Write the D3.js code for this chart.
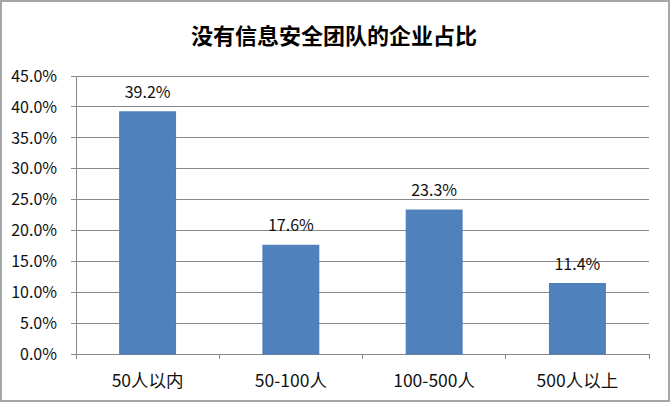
<!DOCTYPE html>
<html><head><meta charset="utf-8">
<script src="https://cdn.jsdelivr.net/npm/d3@7"></script>
<style>body{margin:0;background:#fff}svg{display:block}text{font-family:"Noto Sans CJK SC","Noto Sans",sans-serif}</style>
</head><body>
<script>
const categories = ["50人以内","50-100人","100-500人","500人以上"];
const values = [39.2, 17.6, 23.3, 11.4];
const yTicks = [0,5,10,15,20,25,30,35,40,45];
const title = "没有信息安全团队的企业占比";

const W=670,H=402;
const m={left:76,right:21,top:76,bottom:48};
const svg=d3.select("body").append("svg").attr("width",W).attr("height",H);
svg.append("rect").attr("x",1).attr("y",1).attr("width",W-2).attr("height",H-2).attr("fill","#fff").attr("stroke","#a6a6a6").attr("stroke-width",2);

const x=d3.scaleBand().domain(categories).range([m.left,W-m.right]).paddingInner(0.61).paddingOuter(0.305);
const y=d3.scaleLinear().domain([0,45]).range([H-m.bottom,m.top]);

// gridlines
svg.append("g").selectAll("line").data(yTicks).join("line")
 .attr("x1",m.left-5).attr("x2",W-m.right).attr("y1",d=>y(d)).attr("y2",d=>y(d))
 .attr("stroke","#888").attr("stroke-width",1).attr("shape-rendering","crispEdges");

// y axis labels
svg.append("g").selectAll("text").data(yTicks).join("text")
 .attr("x",m.left-19).attr("y",d=>y(d)).attr("dy","0.36em").attr("text-anchor","end")
 .attr("font-size",16).attr("fill","#111").text(d=>d.toFixed(1)+"%");

// y axis line
svg.append("line").attr("x1",m.left).attr("x2",m.left).attr("y1",y(45)).attr("y2",y(0)).attr("stroke","#888").attr("shape-rendering","crispEdges");

// bars
svg.append("g").selectAll("rect").data(values).join("rect")
 .attr("x",(d,i)=>x(categories[i])).attr("width",x.bandwidth())
 .attr("y",d=>y(d)).attr("height",d=>y(0)-y(d))
 .attr("fill","#4f81bd").attr("stroke","#4a7ab5").attr("stroke-width",1);

// category tick marks
const step=x.step();
const bounds=d3.range(categories.length+1).map(i=>m.left+i*step);
svg.append("g").selectAll("line").data(bounds).join("line")
 .attr("x1",d=>d).attr("x2",d=>d).attr("y1",y(0)).attr("y2",y(0)+5)
 .attr("stroke","#888").attr("shape-rendering","crispEdges");

// x labels
svg.append("g").selectAll("text").data(categories).join("text")
 .attr("x",d=>x(d)+x.bandwidth()/2).attr("y",H-m.bottom+33).attr("text-anchor","middle")
 .attr("font-size",17.5).attr("fill","#111").text(d=>d);

// value labels
svg.append("g").selectAll("text").data(values).join("text")
 .attr("x",(d,i)=>x(categories[i])+x.bandwidth()/2).attr("y",d=>y(d)-14).attr("text-anchor","middle")
 .attr("font-size",16).attr("fill","#111").text(d=>d.toFixed(1)+"%");

// title
svg.append("text").attr("x",334).attr("y",44).attr("text-anchor","middle")
 .attr("font-size",22).attr("font-weight","bold").attr("fill","#000").text(title);
</script>
</body></html>
